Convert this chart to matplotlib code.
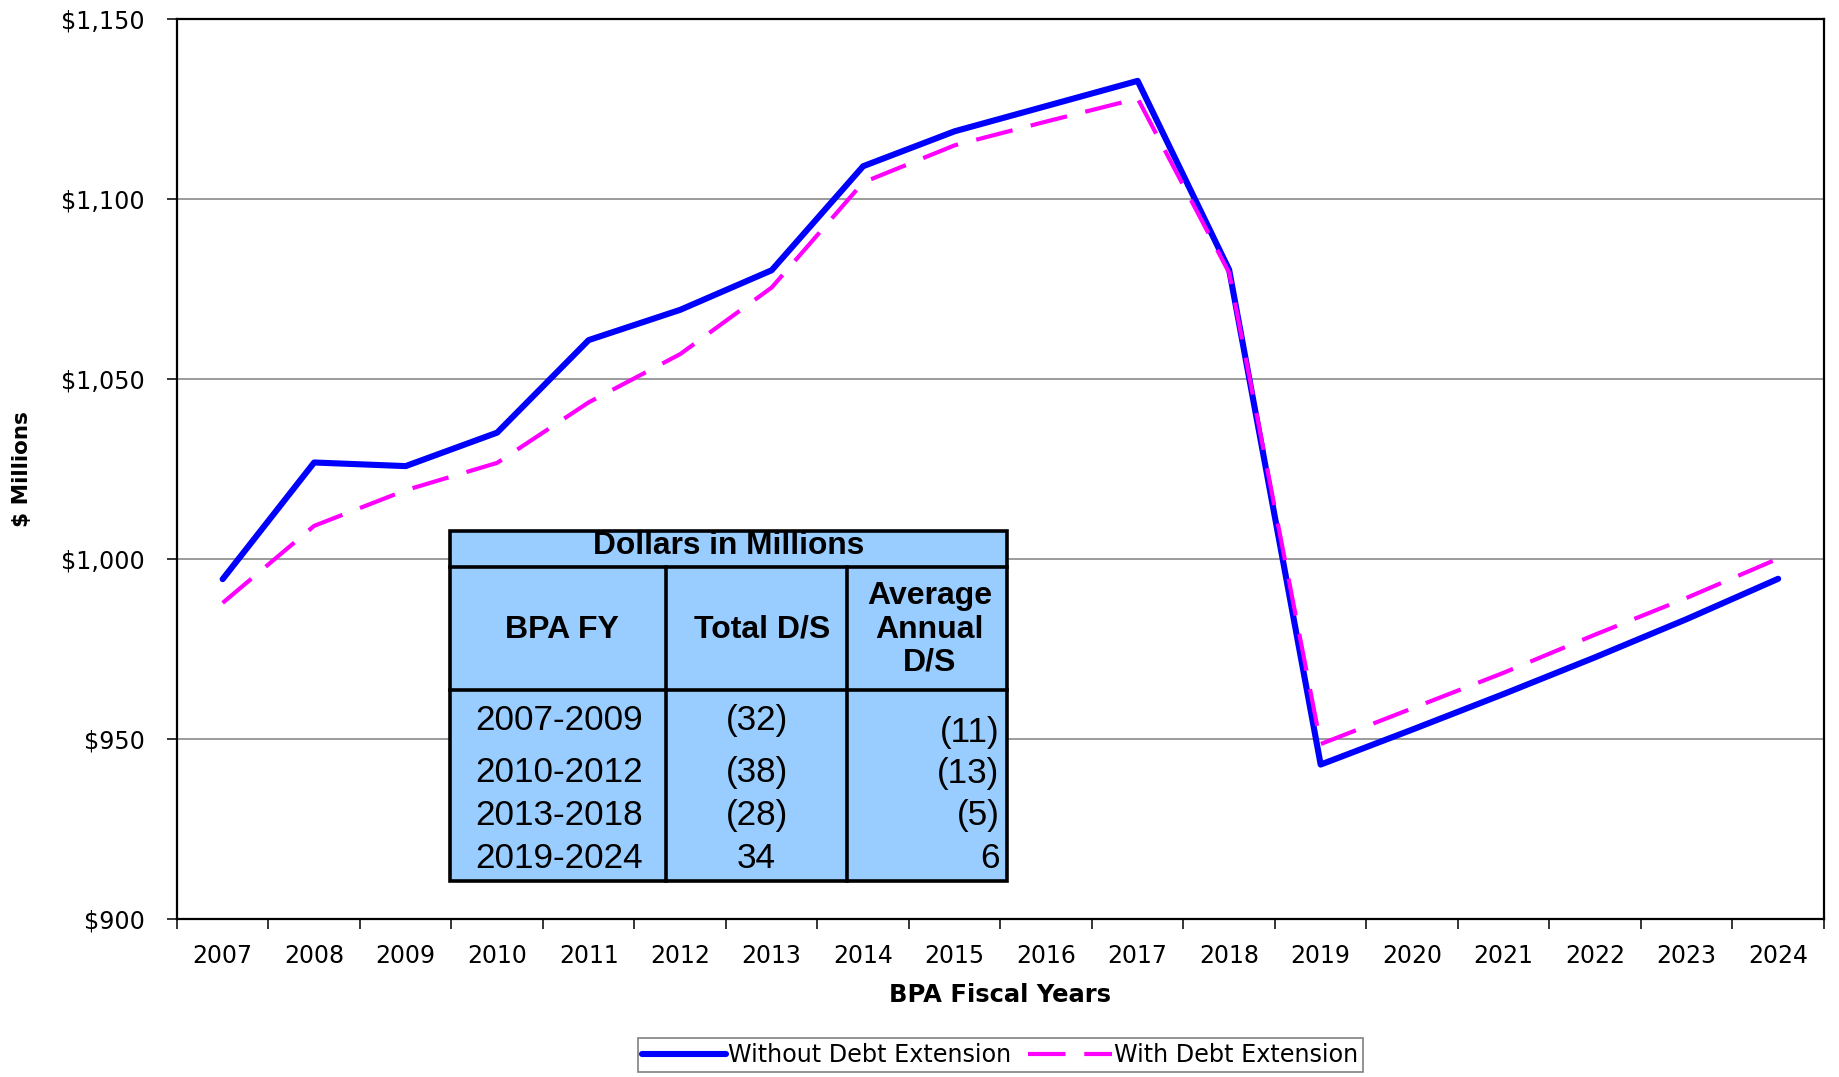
import numpy as np
import matplotlib
matplotlib.use("Agg")
import matplotlib.pyplot as plt
from matplotlib.patches import Rectangle

# data ($ millions)
years = [str(y) for y in range(2007, 2025)]
without_ext = [994.4, 1026.8, 1025.8, 1035.1, 1060.8, 1069.2, 1080.2, 1109.1, 1118.8,
               1125.8, 1132.8, 1080.3, 942.9, 952.6, 962.5, 972.7, 983.3, 994.5]
with_ext = [987.8, 1009.2, 1019.1, 1026.7, 1043.5, 1056.9, 1075.4, 1104.6, 1114.9,
            1121.5, 1127.9, 1079.5, 948.6, 958.5, 968.4, 979.0, 989.2, 1000.1]

# inset table contents
tbl_title = "Dollars in Millions"
tbl_cols = ["BPA FY", "Total D/S", "Average\nAnnual\nD/S"]
tbl_fy = ["2007-2009", "2010-2012", "2013-2018", "2019-2024"]
tbl_total = ["(32)", "(38)", "(28)", "34"]
tbl_avg = ["(11)", "(13)", "(5)", "6"]

BLUE = "#0000FF"
MAGENTA = "#FF00FF"
TBL_FILL = "#99CCFF"

fig = plt.figure(figsize=(18.39, 10.77), dpi=100)
ax = fig.add_axes([0.0962, 0.1467, 0.8956, 0.8357])

x = np.arange(len(years))
ax.plot(x, without_ext, color=BLUE, lw=4.4, solid_capstyle="round",
        solid_joinstyle="round", label="Without Debt Extension", zorder=3)
ax.plot(x, with_ext, color=MAGENTA, lw=3.0, dashes=(9, 4.5),
        label="With Debt Extension", zorder=4)

ax.set_xlim(-0.5, len(years) - 0.5)
ax.set_ylim(900, 1150)
ax.set_yticks(np.arange(900, 1151, 50))
ax.set_yticklabels(["${:,}".format(v) for v in range(900, 1151, 50)])
ax.yaxis.grid(True, color="#808080", lw=1.1)
ax.set_axisbelow(True)

# category labels at centers, tick marks between categories
ax.set_xticks(x)
ax.set_xticklabels(years)
ax.set_xticks(np.arange(-0.5, len(years)), minor=True)
ax.tick_params(axis="x", which="major", length=0, pad=18, labelsize=17)
ax.tick_params(axis="x", which="minor", length=7, width=1.1, direction="out")
ax.tick_params(axis="y", which="major", length=7, width=1.1, direction="out",
               pad=16, labelsize=17.2)

for s in ax.spines.values():
    s.set_linewidth(1.6)
    s.set_color("black")

ax.set_xlabel("BPA Fiscal Years", fontsize=17.5, fontweight="bold")
ax.xaxis.set_label_coords(0.5, -0.084)
ax.xaxis.label.set_va("center")
ax.set_ylabel("$ Millions", fontsize=15.5, fontweight="bold")
ax.yaxis.set_label_coords(-0.094, 0.5)
ax.yaxis.label.set_va("center")

# inset table (axes fraction coords)
x0, x1, x2, x3 = 0.166, 0.297, 0.4067, 0.5043
y0, yh, yt, ytop = 0.0417, 0.254, 0.391, 0.431
tr = ax.transAxes
ax.add_patch(Rectangle((x0, y0), x3 - x0, ytop - y0, transform=tr,
                       facecolor=TBL_FILL, edgecolor="black", lw=2.6, zorder=5))
ax.plot([x0, x3], [yt, yt], color="black", lw=2.6, transform=tr, zorder=6)
ax.plot([x0, x3], [yh, yh], color="black", lw=2.6, transform=tr, zorder=6)
for xv in (x1, x2):
    ax.plot([xv, xv], [y0, yt], color="black", lw=2.6, transform=tr, zorder=6)

tf = "Liberation Sans"
ax.text((x0 + x3) / 2, 0.414, tbl_title, transform=tr, ha="center", va="center",
        fontsize=22.8, fontweight="bold", family=tf, zorder=7)
hx = [0.234, 0.3554, 0.457]
for xv, lab in zip(hx, tbl_cols):
    ax.text(xv, 0.3216, lab, transform=tr, ha="center", va="center", fontsize=23,
            fontweight="bold", family=tf, linespacing=1.15, zorder=7)

row_y = [0.220, 0.1628, 0.1146, 0.0677]
avg_y = [0.207, 0.1615, 0.1146, 0.0677]
for i in range(len(tbl_fy)):
    ax.text(0.232, row_y[i], tbl_fy[i], transform=tr, ha="center", va="center",
            fontsize=25.3, family=tf, zorder=7)
    ax.text(0.352, row_y[i], tbl_total[i], transform=tr, ha="center", va="center",
            fontsize=25.3, family=tf, zorder=7)
    ax.text(0.4993, avg_y[i], tbl_avg[i], transform=tr, ha="right", va="center",
            fontsize=25.3, family=tf, zorder=7)

leg = ax.legend(loc="center", bbox_to_anchor=(0.5, -0.151), ncol=2, frameon=True,
                fancybox=False, edgecolor="#606060", fontsize=17.2, handlelength=3.5,
                handletextpad=0.1, columnspacing=0.7, borderpad=0.2,
                borderaxespad=0)
leg.get_frame().set_linewidth(1.2)

fig.savefig("out.png", dpi=100)
